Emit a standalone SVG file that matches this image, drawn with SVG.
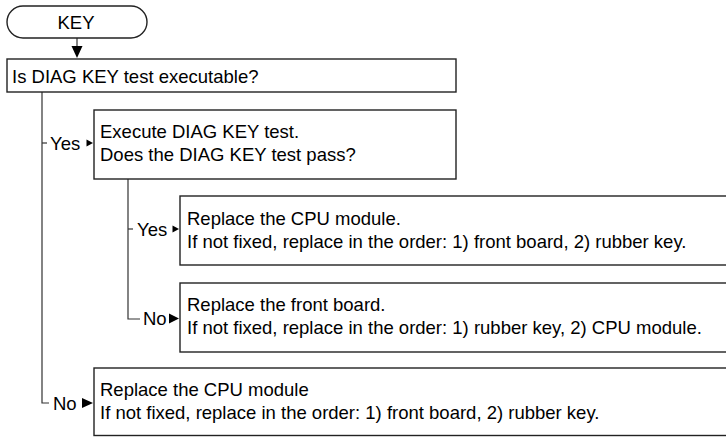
<svg xmlns="http://www.w3.org/2000/svg" width="726" height="437" viewBox="0 0 726 437">
<style>
.box{fill:#fff;stroke:#222;stroke-width:1.4}
.ln{fill:none;stroke:#333;stroke-width:1.2}
.ah{fill:#000;stroke:none}
text{font-family:"Liberation Sans",Arial,sans-serif;font-size:18.5px;fill:#000}
</style>
<rect width="726" height="437" fill="#fff"/>
<g id="connectors">
<line class="ln" x1="77" y1="38" x2="77" y2="48"/>
<polygon class="ah" points="71.5,46 82.5,46 77,58"/>
<polyline class="ln" points="42,92 42,403 49,403"/>
<line class="ln" x1="42" y1="143" x2="47" y2="143"/>
<polygon class="ah" points="86.5,139.5 86.5,146.5 93,143"/>
<polyline class="ln" points="128,179 128,319 140,319"/>
<line class="ln" x1="128" y1="229" x2="133" y2="229"/>
<polygon class="ah" points="172.5,225.5 172.5,232.5 179,229"/>
<polygon class="ah" points="169,313.5 169,323.5 179,318.5"/>
<polygon class="ah" points="82,398 82,408 93,403"/>
<text x="50" y="150">Yes</text>
<text x="137" y="236">Yes</text>
<text x="143" y="325">No</text>
<text x="53" y="410">No</text>
</g>
<g id="start">
<rect class="box" x="7" y="6" width="140" height="32" rx="16" ry="16"/>
<text x="76" y="29" text-anchor="middle">KEY</text>
</g>
<g id="q1">
<rect class="box" x="7" y="59" width="449" height="33"/>
<text x="12" y="83">Is DIAG KEY test executable?</text>
</g>
<g id="q2">
<rect class="box" x="94" y="110" width="362" height="69"/>
<text x="100" y="138">Execute DIAG KEY test.</text>
<text x="100" y="161">Does the DIAG KEY test pass?</text>
</g>
<g id="a1">
<rect class="box" x="180" y="196" width="560" height="69"/>
<text x="187" y="225">Replace the CPU module.</text>
<text x="187" y="248">If not fixed, replace in the order: 1) front board, 2) rubber key.</text>
</g>
<g id="a2">
<rect class="box" x="180" y="283" width="560" height="69"/>
<text x="187" y="311">Replace the front board.</text>
<text x="187" y="334">If not fixed, replace in the order: 1) rubber key, 2) CPU module.</text>
</g>
<g id="a3">
<rect class="box" x="94" y="368" width="646" height="67.5"/>
<text x="100" y="396">Replace the CPU module</text>
<text x="100" y="419">If not fixed, replace in the order: 1) front board, 2) rubber key.</text>
</g>
</svg>
